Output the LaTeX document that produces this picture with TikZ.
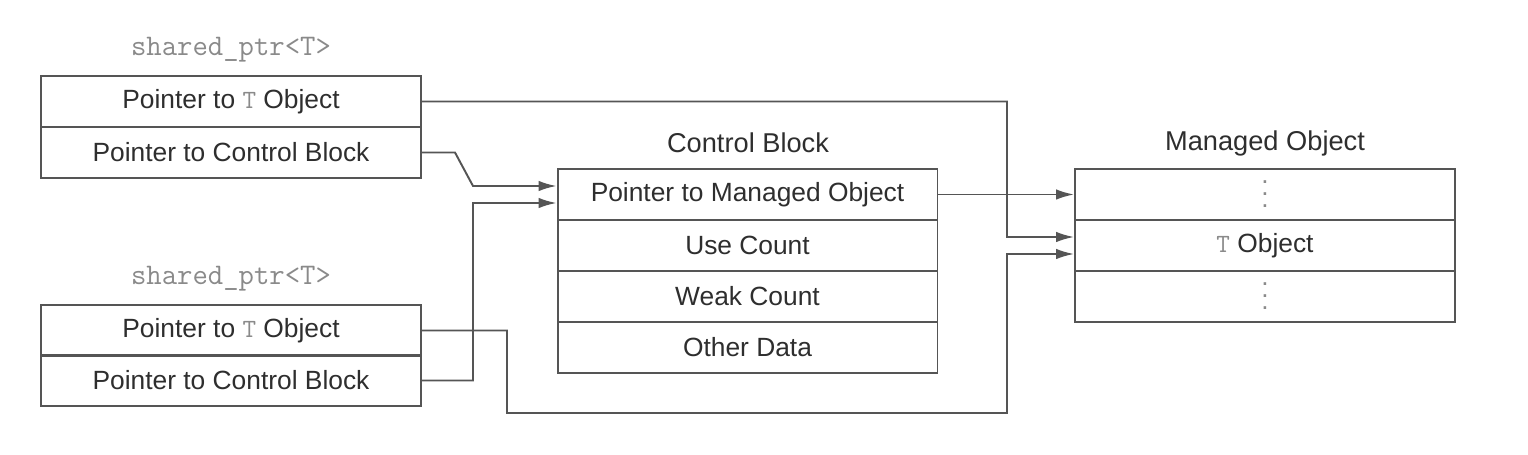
\documentclass[tikz,border=0pt]{standalone}
\usepackage{fontspec}
\setmainfont{Liberation Sans}
\usetikzlibrary{arrows.meta}

\definecolor{linegray}{HTML}{555555}
\definecolor{textgray}{HTML}{2E2E2E}
\definecolor{codegray}{HTML}{8A8A8A}
\newcommand{\tobj}{\textcolor{codegray}{\texttt{T}}}
\newcommand{\coldots}{\textcolor{codegray}{\lower3pt\vbox{\baselineskip=6.8pt\lineskiplimit=-20pt
  \hbox{.}\hbox{.}\hbox{.}}}}

\begin{document}
\begin{tikzpicture}[
  x=0.02cm, y=-0.02cm,
  field/.style={rectangle, draw=linegray, line width=1.1pt, minimum width=7.6cm,
    minimum height=1.02cm, inner sep=0pt, text=textgray,
    font=\fontsize{15pt}{18pt}\selectfont},
  title/.style={text=textgray, font=\fontsize{15.5pt}{18pt}\selectfont},
  typelbl/.style={text=codegray, font=\fontsize{17pt}{19pt}\ttfamily},
  link/.style={draw=linegray, line width=1.1pt, -{Latex[length=3.6mm,width=2.1mm]}},
]
  \useasboundingbox (0,0) rectangle (1528,455);

  % the two shared pointers
  \node[typelbl] (ta) at (231,50)  {shared\_ptr<T>};
  \node[typelbl] (tb) at (231,279) {shared\_ptr<T>};

  \node[field] (sa1) at (231,101.5) {Pointer to \tobj{} Object};
  \node[field] (sa2) at (231,152.5) {Pointer to Control Block};
  \node[field] (sb1) at (231,330.5) {Pointer to \tobj{} Object};
  \node[field] (sb2) at (231,380.5) {Pointer to Control Block};

  % control block
  \node[title] (cbt) at (748,143) {Control Block};
  \foreach \i/\txt in {1/Pointer to Managed Object, 2/Use Count, 3/Weak Count, 4/Other Data} {
    \node[field] (cb\i) at (747.5,143.5+51*\i) {\txt};
  }

  % managed object
  \node[title] (mot) at (1265,143) {Managed Object};
  \node[field] (mo1) at (1265,194.5) {\coldots};
  \node[field] (mo2) at (1265,245.5) {\tobj{} Object};
  \node[field] (mo3) at (1265,296.5) {\coldots};

  % links
  \draw[link] (sa1.east) -| (1007,237) -- ([yshift=0.17cm]mo2.west);
  \draw[link] (sa2.east) -- (455,152.5) -- (473,186) -- ([yshift=0.17cm]cb1.west);
  \draw[link] (sb2.east) -| (473,203) -- ([yshift=-0.17cm]cb1.west);
  \draw[link] (sb1.east) -| (507,413) -| (1007,254) -- ([yshift=-0.17cm]mo2.west);
  \draw[link] (cb1.east) -- (mo1.west);
\end{tikzpicture}
\end{document}
